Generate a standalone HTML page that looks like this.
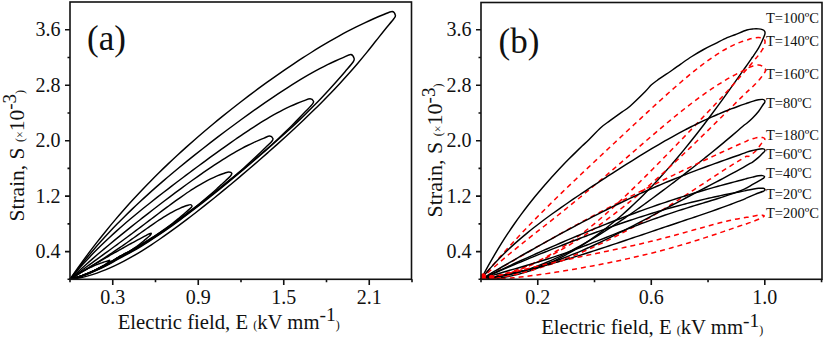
<!DOCTYPE html>
<html><head><meta charset="utf-8"><style>
html,body{margin:0;padding:0;background:#fff;}
svg{display:block;}
text{font-family:"Liberation Serif",serif;fill:#111;}
.tl{font-size:20px;}
.al{font-size:20.7px;}
.yl{font-size:21.5px;}
.supy{font-size:19px;}
.sp{font-size:12px;}
.sup{font-size:19.5px;}
.tt{font-size:14.5px;}
.deg{font-size:9px;}
.k{fill:none;stroke:#000;stroke-width:1.45;stroke-linejoin:round;}
.r{fill:none;stroke:#ff0000;stroke-width:1.5;stroke-dasharray:5 4;}
.ax{fill:none;stroke:#111;stroke-width:1.6;}
</style></head><body>
<svg width="825" height="340" viewBox="0 0 825 340">
<rect width="825" height="340" fill="#fff"/>
<path d="M70.00,279.30 C71.49,277.16 75.96,270.63 78.95,266.44 C81.93,262.25 84.91,258.16 87.89,254.15 C90.88,250.15 93.86,246.24 96.84,242.41 C99.82,238.58 102.81,234.84 105.79,231.17 C108.77,227.50 111.75,223.91 114.74,220.39 C117.72,216.86 120.70,213.42 123.68,210.03 C126.67,206.65 129.65,203.34 132.63,200.08 C135.61,196.82 138.60,193.63 141.58,190.49 C144.56,187.35 147.54,184.27 150.53,181.24 C153.51,178.20 156.49,175.23 159.47,172.29 C162.45,169.36 165.44,166.48 168.42,163.64 C171.40,160.80 174.38,158.00 177.37,155.25 C180.35,152.49 183.33,149.78 186.31,147.10 C189.30,144.42 192.28,141.78 195.26,139.18 C198.24,136.57 201.23,134.00 204.21,131.46 C207.19,128.93 210.17,126.42 213.16,123.95 C216.14,121.47 219.12,119.03 222.10,116.62 C225.09,114.20 228.07,111.81 231.05,109.46 C234.03,107.10 237.01,104.77 240.00,102.46 C242.98,100.16 245.96,97.88 248.94,95.63 C251.93,93.38 254.91,91.15 257.89,88.95 C260.87,86.75 263.86,84.58 266.84,82.43 C269.82,80.28 272.80,78.16 275.79,76.07 C278.77,73.97 281.75,71.90 284.73,69.86 C287.72,67.82 290.70,65.80 293.68,63.81 C296.66,61.83 299.65,59.86 302.63,57.94 C305.61,56.01 308.59,54.11 311.58,52.24 C314.56,50.37 317.54,48.53 320.52,46.73 C323.50,44.93 326.49,43.15 329.47,41.42 C332.45,39.69 335.43,37.99 338.42,36.33 C341.40,34.67 344.38,33.05 347.36,31.47 C350.35,29.89 353.33,28.36 356.31,26.87 C359.29,25.38 362.28,23.93 365.26,22.54 C368.24,21.14 371.22,19.79 374.21,18.50 C377.19,17.21 380.17,15.97 383.15,14.79 C386.14,13.61 390.06,11.34 392.10,11.43 C394.14,11.51 395.12,14.07 395.40,15.30 C395.68,16.53 395.57,16.40 393.80,18.80 C392.03,21.20 387.80,26.00 384.81,29.70 C381.81,33.41 378.81,37.27 375.81,41.05 C372.81,44.83 369.81,48.69 366.82,52.37 C363.82,56.06 360.82,59.65 357.82,63.17 C354.82,66.68 351.83,70.12 348.83,73.49 C345.83,76.86 342.83,80.15 339.83,83.39 C336.84,86.63 333.84,89.80 330.84,92.93 C327.84,96.05 324.84,99.12 321.84,102.14 C318.85,105.17 315.85,108.14 312.85,111.07 C309.85,114.01 306.85,116.90 303.86,119.76 C300.86,122.62 297.86,125.44 294.86,128.24 C291.86,131.03 288.86,133.79 285.87,136.53 C282.87,139.26 279.87,141.97 276.87,144.66 C273.87,147.34 270.88,150.00 267.88,152.65 C264.88,155.29 261.88,157.91 258.88,160.51 C255.89,163.12 252.89,165.70 249.89,168.27 C246.89,170.83 243.89,173.38 240.89,175.91 C237.90,178.44 234.90,180.96 231.90,183.45 C228.90,185.95 225.90,188.43 222.91,190.89 C219.91,193.35 216.91,195.80 213.91,198.22 C210.91,200.64 207.91,203.04 204.92,205.42 C201.92,207.80 198.92,210.16 195.92,212.50 C192.92,214.83 189.93,217.14 186.93,219.41 C183.93,221.69 180.93,223.94 177.93,226.16 C174.94,228.37 171.94,230.55 168.94,232.70 C165.94,234.84 162.94,236.94 159.94,239.00 C156.95,241.06 153.95,243.08 150.95,245.04 C147.95,247.00 144.95,248.91 141.96,250.76 C138.96,252.61 135.96,254.41 132.96,256.14 C129.96,257.86 126.96,259.53 123.97,261.11 C120.97,262.69 117.97,264.21 114.97,265.63 C111.97,267.05 108.98,268.40 105.98,269.64 C102.98,270.88 99.98,272.04 96.98,273.08 C93.99,274.12 90.99,275.07 87.99,275.88 C84.99,276.70 81.99,277.41 78.99,277.98 C76.00,278.55 71.50,279.08 70.00,279.30" class="k"/>
<path d="M70.00,279.30 C71.30,277.59 75.20,272.38 77.80,269.04 C80.40,265.70 83.00,262.45 85.61,259.27 C88.21,256.09 90.81,253.00 93.41,249.96 C96.01,246.92 98.61,243.96 101.21,241.06 C103.81,238.16 106.41,235.32 109.01,232.53 C111.61,229.75 114.22,227.03 116.82,224.35 C119.42,221.67 122.02,219.05 124.62,216.47 C127.22,213.88 129.82,211.35 132.42,208.86 C135.02,206.36 137.62,203.91 140.22,201.49 C142.83,199.07 145.43,196.70 148.03,194.35 C150.63,192.00 153.23,189.68 155.83,187.40 C158.43,185.11 161.03,182.85 163.63,180.62 C166.23,178.38 168.84,176.18 171.44,173.99 C174.04,171.81 176.64,169.65 179.24,167.50 C181.84,165.36 184.44,163.24 187.04,161.14 C189.64,159.03 192.24,156.95 194.84,154.88 C197.45,152.81 200.05,150.76 202.65,148.72 C205.25,146.68 207.85,144.66 210.45,142.65 C213.05,140.64 215.65,138.65 218.25,136.67 C220.85,134.69 223.45,132.72 226.06,130.77 C228.66,128.82 231.26,126.88 233.86,124.96 C236.46,123.03 239.06,121.12 241.66,119.23 C244.26,117.33 246.86,115.45 249.46,113.59 C252.06,111.72 254.67,109.87 257.27,108.04 C259.87,106.21 262.47,104.40 265.07,102.60 C267.67,100.81 270.27,99.03 272.87,97.28 C275.47,95.53 278.07,93.79 280.67,92.09 C283.28,90.38 285.88,88.69 288.48,87.04 C291.08,85.38 293.68,83.75 296.28,82.15 C298.88,80.55 301.48,78.98 304.08,77.45 C306.68,75.92 309.29,74.42 311.89,72.96 C314.49,71.50 317.09,70.08 319.69,68.70 C322.29,67.33 324.89,65.99 327.49,64.70 C330.09,63.42 332.69,62.18 335.29,61.00 C337.90,59.82 340.50,58.68 343.10,57.62 C345.70,56.55 349.07,54.46 350.90,54.59 C352.73,54.72 353.73,57.17 354.10,58.40 C354.47,59.63 354.58,59.83 353.10,62.00 C351.62,64.17 347.86,68.33 345.24,71.41 C342.61,74.48 339.99,77.50 337.37,80.46 C334.75,83.43 332.13,86.34 329.51,89.20 C326.89,92.06 324.27,94.88 321.64,97.64 C319.02,100.41 316.40,103.13 313.78,105.81 C311.16,108.49 308.54,111.13 305.92,113.72 C303.30,116.31 300.67,118.87 298.05,121.36 C295.43,123.86 292.81,126.28 290.19,128.69 C287.57,131.10 284.95,133.46 282.33,135.82 C279.70,138.17 277.08,140.51 274.46,142.83 C271.84,145.14 269.22,147.44 266.60,149.73 C263.98,152.02 261.35,154.29 258.73,156.54 C256.11,158.80 253.49,161.04 250.87,163.27 C248.25,165.49 245.63,167.71 243.01,169.91 C240.38,172.11 237.76,174.30 235.14,176.47 C232.52,178.65 229.90,180.81 227.28,182.95 C224.66,185.10 222.04,187.24 219.41,189.36 C216.79,191.48 214.17,193.58 211.55,195.67 C208.93,197.76 206.31,199.83 203.69,201.89 C201.06,203.95 198.44,205.99 195.82,208.01 C193.20,210.02 190.58,212.03 187.96,214.00 C185.34,215.98 182.72,217.94 180.09,219.87 C177.47,221.80 174.85,223.71 172.23,225.58 C169.61,227.46 166.99,229.31 164.37,231.13 C161.75,232.95 159.12,234.74 156.50,236.48 C153.88,238.23 151.26,239.95 148.64,241.62 C146.02,243.29 143.40,244.93 140.78,246.51 C138.15,248.10 135.53,249.64 132.91,251.13 C130.29,252.62 127.67,254.02 125.05,255.44 C122.43,256.87 119.80,258.26 117.18,259.70 C114.56,261.15 111.94,262.71 109.32,264.12 C106.70,265.52 104.08,266.87 101.46,268.13 C98.83,269.40 96.21,270.59 93.59,271.70 C90.97,272.81 88.35,273.85 85.73,274.79 C83.11,275.72 80.49,276.58 77.86,277.34 C75.24,278.09 71.31,278.97 70.00,279.30" class="k"/>
<path d="M70.00,279.30 C71.11,277.97 74.45,273.93 76.67,271.35 C78.89,268.76 81.12,266.26 83.34,263.81 C85.56,261.35 87.79,258.97 90.01,256.63 C92.23,254.30 94.45,252.02 96.68,249.79 C98.90,247.56 101.12,245.38 103.35,243.24 C105.57,241.10 107.79,239.01 110.02,236.95 C112.24,234.89 114.46,232.87 116.69,230.88 C118.91,228.89 121.13,226.93 123.36,225.00 C125.58,223.07 127.80,221.17 130.03,219.30 C132.25,217.42 134.47,215.57 136.69,213.73 C138.92,211.90 141.14,210.09 143.36,208.29 C145.59,206.49 147.81,204.72 150.03,202.95 C152.26,201.18 154.48,199.43 156.70,197.69 C158.93,195.95 161.15,194.22 163.37,192.50 C165.60,190.78 167.82,189.08 170.04,187.37 C172.26,185.67 174.49,183.98 176.71,182.29 C178.93,180.61 181.16,178.93 183.38,177.25 C185.60,175.58 187.83,173.91 190.05,172.25 C192.27,170.59 194.50,168.93 196.72,167.28 C198.94,165.63 201.17,163.99 203.39,162.35 C205.61,160.71 207.84,159.08 210.06,157.45 C212.28,155.83 214.50,154.21 216.73,152.61 C218.95,151.00 221.17,149.40 223.40,147.81 C225.62,146.22 227.84,144.64 230.07,143.08 C232.29,141.51 234.51,139.96 236.74,138.42 C238.96,136.89 241.18,135.37 243.41,133.86 C245.63,132.36 247.85,130.88 250.08,129.41 C252.30,127.95 254.52,126.51 256.74,125.10 C258.97,123.69 261.19,122.29 263.41,120.94 C265.64,119.58 267.86,118.25 270.08,116.96 C272.31,115.67 274.53,114.41 276.75,113.19 C278.98,111.98 281.20,110.80 283.42,109.67 C285.65,108.54 287.87,107.45 290.09,106.42 C292.31,105.39 294.54,104.41 296.76,103.49 C298.98,102.57 301.21,101.70 303.43,100.90 C305.65,100.11 308.42,98.66 310.10,98.71 C311.78,98.76 313.12,100.30 313.50,101.20 C313.88,102.10 313.71,102.41 312.40,104.10 C311.09,105.79 307.91,108.96 305.67,111.34 C303.42,113.72 301.18,116.07 298.93,118.38 C296.69,120.70 294.44,122.98 292.20,125.23 C289.96,127.48 287.71,129.70 285.47,131.89 C283.22,134.07 280.98,136.22 278.73,138.32 C276.49,140.43 274.24,142.48 272.00,144.49 C269.76,146.50 267.51,148.42 265.27,150.37 C263.02,152.32 260.78,154.26 258.53,156.19 C256.29,158.12 254.04,160.04 251.80,161.95 C249.56,163.85 247.31,165.75 245.07,167.64 C242.82,169.53 240.58,171.41 238.33,173.28 C236.09,175.14 233.84,177.00 231.60,178.85 C229.36,180.70 227.11,182.54 224.87,184.37 C222.62,186.20 220.38,188.02 218.13,189.83 C215.89,191.64 213.64,193.44 211.40,195.22 C209.16,197.01 206.91,198.78 204.67,200.55 C202.42,202.31 200.18,204.06 197.93,205.80 C195.69,207.53 193.44,209.25 191.20,210.96 C188.96,212.67 186.71,214.36 184.47,216.03 C182.22,217.71 179.98,219.36 177.73,221.00 C175.49,222.64 173.24,224.26 171.00,225.86 C168.76,227.46 166.51,229.04 164.27,230.59 C162.02,232.14 159.78,233.67 157.53,235.18 C155.29,236.68 153.04,238.16 150.80,239.61 C148.56,241.06 146.31,242.48 144.07,243.87 C141.82,245.26 139.58,246.61 137.33,247.93 C135.09,249.25 132.84,250.54 130.60,251.79 C128.36,253.04 126.11,254.19 123.87,255.41 C121.62,256.63 119.38,257.85 117.13,259.12 C114.89,260.38 112.64,261.75 110.40,263.00 C108.16,264.25 105.91,265.45 103.67,266.60 C101.42,267.74 99.18,268.84 96.93,269.88 C94.69,270.92 92.44,271.90 90.20,272.82 C87.96,273.74 85.71,274.60 83.47,275.39 C81.22,276.18 78.98,276.91 76.73,277.56 C74.49,278.21 71.12,279.01 70.00,279.30" class="k"/>
<path d="M70.00,279.30 C70.92,278.43 73.70,275.80 75.55,274.08 C77.40,272.36 79.25,270.66 81.09,268.98 C82.94,267.30 84.79,265.64 86.64,263.99 C88.49,262.35 90.34,260.72 92.19,259.11 C94.04,257.49 95.89,255.90 97.74,254.31 C99.59,252.73 101.43,251.16 103.28,249.60 C105.13,248.04 106.98,246.49 108.83,244.95 C110.68,243.41 112.53,241.88 114.38,240.36 C116.23,238.85 118.08,237.34 119.92,235.83 C121.77,234.33 123.62,232.84 125.47,231.35 C127.32,229.87 129.17,228.39 131.02,226.91 C132.87,225.44 134.72,223.97 136.57,222.51 C138.42,221.05 140.26,219.60 142.11,218.15 C143.96,216.70 145.81,215.26 147.66,213.82 C149.51,212.38 151.36,210.95 153.21,209.52 C155.06,208.09 156.91,206.67 158.76,205.26 C160.60,203.84 162.45,202.43 164.30,201.03 C166.15,199.62 168.00,198.22 169.85,196.83 C171.70,195.44 173.55,194.05 175.40,192.68 C177.25,191.30 179.10,189.93 180.94,188.56 C182.79,187.20 184.64,185.85 186.49,184.50 C188.34,183.16 190.19,181.82 192.04,180.49 C193.89,179.17 195.74,177.85 197.59,176.55 C199.44,175.24 201.28,173.95 203.13,172.67 C204.98,171.39 206.83,170.12 208.68,168.87 C210.53,167.62 212.38,166.38 214.23,165.17 C216.08,163.95 217.93,162.74 219.77,161.56 C221.62,160.38 223.47,159.21 225.32,158.07 C227.17,156.92 229.02,155.80 230.87,154.70 C232.72,153.60 234.57,152.53 236.42,151.48 C238.27,150.43 240.11,149.41 241.96,148.41 C243.81,147.42 245.66,146.45 247.51,145.52 C249.36,144.59 251.21,143.68 253.06,142.82 C254.91,141.95 256.76,141.12 258.61,140.32 C260.45,139.53 262.30,138.77 264.15,138.06 C266.00,137.35 268.24,135.97 269.70,136.05 C271.16,136.12 272.53,137.64 272.90,138.50 C273.27,139.36 273.00,139.82 271.90,141.20 C270.80,142.58 268.16,144.94 266.29,146.78 C264.42,148.62 262.55,150.44 260.68,152.25 C258.81,154.05 256.94,155.84 255.07,157.60 C253.21,159.37 251.34,161.12 249.47,162.84 C247.60,164.56 245.73,166.26 243.86,167.93 C241.99,169.60 240.12,171.26 238.25,172.86 C236.38,174.46 234.51,175.98 232.64,177.53 C230.77,179.07 228.90,180.60 227.03,182.13 C225.16,183.66 223.29,185.18 221.42,186.69 C219.56,188.21 217.69,189.71 215.82,191.21 C213.95,192.71 212.08,194.20 210.21,195.68 C208.34,197.17 206.47,198.64 204.60,200.11 C202.73,201.57 200.86,203.03 198.99,204.48 C197.12,205.93 195.25,207.37 193.38,208.79 C191.51,210.22 189.64,211.64 187.77,213.05 C185.91,214.45 184.04,215.85 182.17,217.23 C180.30,218.62 178.43,219.99 176.56,221.34 C174.69,222.70 172.82,224.05 170.95,225.38 C169.08,226.71 167.21,228.02 165.34,229.32 C163.47,230.62 161.60,231.90 159.73,233.17 C157.86,234.43 155.99,235.68 154.12,236.91 C152.26,238.14 150.39,239.35 148.52,240.54 C146.65,241.73 144.78,242.90 142.91,244.04 C141.04,245.19 139.17,246.31 137.30,247.41 C135.43,248.51 133.56,249.58 131.69,250.63 C129.82,251.68 127.95,252.70 126.08,253.69 C124.21,254.69 122.34,255.54 120.47,256.58 C118.61,257.63 116.74,258.85 114.87,259.95 C113.00,261.05 111.13,262.14 109.26,263.18 C107.39,264.23 105.52,265.24 103.65,266.22 C101.78,267.19 99.91,268.14 98.04,269.04 C96.17,269.94 94.30,270.80 92.43,271.62 C90.56,272.44 88.69,273.22 86.83,273.96 C84.96,274.69 83.09,275.39 81.22,276.03 C79.35,276.67 77.48,277.27 75.61,277.82 C73.74,278.36 70.93,279.05 70.00,279.30" class="k"/>
<path d="M70.00,279.30 C70.74,278.73 72.94,277.02 74.41,275.90 C75.88,274.78 77.35,273.67 78.82,272.56 C80.29,271.46 81.76,270.36 83.23,269.27 C84.70,268.18 86.17,267.10 87.64,266.02 C89.11,264.94 90.59,263.87 92.06,262.80 C93.53,261.72 95.00,260.66 96.47,259.59 C97.94,258.52 99.41,257.45 100.88,256.39 C102.35,255.32 103.82,254.25 105.29,253.18 C106.76,252.11 108.23,251.05 109.70,249.98 C111.17,248.90 112.64,247.83 114.11,246.76 C115.58,245.68 117.05,244.60 118.52,243.52 C119.99,242.44 121.46,241.36 122.93,240.27 C124.40,239.19 125.87,238.10 127.34,237.00 C128.81,235.91 130.29,234.82 131.76,233.72 C133.23,232.62 134.70,231.52 136.17,230.41 C137.64,229.31 139.11,228.20 140.58,227.10 C142.05,225.99 143.52,224.88 144.99,223.77 C146.46,222.65 147.93,221.54 149.40,220.43 C150.87,219.32 152.34,218.20 153.81,217.09 C155.28,215.98 156.75,214.87 158.22,213.76 C159.69,212.65 161.16,211.55 162.63,210.45 C164.10,209.35 165.57,208.25 167.04,207.16 C168.51,206.07 169.99,204.98 171.46,203.90 C172.93,202.82 174.40,201.75 175.87,200.69 C177.34,199.64 178.81,198.58 180.28,197.55 C181.75,196.51 183.22,195.49 184.69,194.48 C186.16,193.47 187.63,192.47 189.10,191.50 C190.57,190.52 192.04,189.56 193.51,188.63 C194.98,187.69 196.45,186.77 197.92,185.88 C199.39,184.99 200.86,184.12 202.33,183.28 C203.80,182.44 205.27,181.63 206.74,180.85 C208.21,180.07 209.69,179.31 211.16,178.60 C212.63,177.89 214.10,177.20 215.57,176.56 C217.04,175.92 218.51,175.32 219.98,174.76 C221.45,174.20 222.92,173.69 224.39,173.22 C225.86,172.75 227.56,171.97 228.80,171.96 C230.04,171.96 231.55,172.49 231.80,173.20 C232.05,173.91 231.29,174.99 230.30,176.20 C229.31,177.41 227.33,179.04 225.85,180.43 C224.36,181.83 222.88,183.22 221.39,184.60 C219.91,185.97 218.43,187.33 216.94,188.68 C215.46,190.03 213.97,191.36 212.49,192.68 C211.00,194.00 209.52,195.30 208.04,196.58 C206.55,197.87 205.07,199.14 203.58,200.38 C202.10,201.62 200.61,202.85 199.13,204.03 C197.65,205.21 196.16,206.33 194.68,207.47 C193.19,208.61 191.71,209.74 190.23,210.86 C188.74,211.99 187.26,213.10 185.77,214.21 C184.29,215.32 182.80,216.42 181.32,217.52 C179.84,218.61 178.35,219.70 176.87,220.78 C175.38,221.86 173.90,222.93 172.41,223.99 C170.93,225.05 169.45,226.10 167.96,227.14 C166.48,228.18 164.99,229.22 163.51,230.24 C162.02,231.26 160.54,232.27 159.06,233.27 C157.57,234.27 156.09,235.26 154.60,236.24 C153.12,237.22 151.63,238.18 150.15,239.14 C148.67,240.09 147.18,241.03 145.70,241.96 C144.21,242.88 142.73,243.79 141.24,244.69 C139.76,245.59 138.28,246.47 136.79,247.34 C135.31,248.21 133.82,249.06 132.34,249.90 C130.85,250.74 129.37,251.56 127.89,252.36 C126.40,253.16 124.92,253.92 123.43,254.71 C121.95,255.50 120.46,256.24 118.98,257.09 C117.50,257.94 116.01,258.92 114.53,259.81 C113.04,260.70 111.56,261.57 110.08,262.42 C108.59,263.27 107.11,264.10 105.62,264.90 C104.14,265.71 102.65,266.49 101.17,267.25 C99.69,268.01 98.20,268.75 96.72,269.46 C95.23,270.18 93.75,270.86 92.26,271.52 C90.78,272.19 89.30,272.82 87.81,273.43 C86.33,274.04 84.84,274.62 83.36,275.17 C81.87,275.72 80.39,276.24 78.91,276.73 C77.42,277.22 75.94,277.68 74.45,278.11 C72.97,278.54 70.74,279.10 70.00,279.30" class="k"/>
<path d="M70.00,279.30 C70.56,278.94 72.23,277.87 73.34,277.17 C74.46,276.46 75.57,275.77 76.68,275.07 C77.80,274.38 78.91,273.69 80.03,273.00 C81.14,272.31 82.25,271.63 83.37,270.95 C84.48,270.26 85.59,269.58 86.71,268.90 C87.82,268.21 88.94,267.53 90.05,266.85 C91.16,266.16 92.28,265.48 93.39,264.79 C94.51,264.10 95.62,263.41 96.73,262.71 C97.85,262.01 98.96,261.32 100.08,260.61 C101.19,259.91 102.30,259.20 103.42,258.49 C104.53,257.78 105.64,257.06 106.76,256.34 C107.87,255.61 108.99,254.89 110.10,254.15 C111.21,253.42 112.33,252.68 113.44,251.94 C114.56,251.19 115.67,250.44 116.78,249.69 C117.90,248.93 119.01,248.17 120.12,247.41 C121.24,246.64 122.35,245.87 123.47,245.10 C124.58,244.32 125.69,243.54 126.81,242.76 C127.92,241.98 129.04,241.19 130.15,240.40 C131.26,239.61 132.38,238.82 133.49,238.03 C134.61,237.23 135.72,236.43 136.83,235.64 C137.95,234.84 139.06,234.04 140.18,233.24 C141.29,232.44 142.40,231.65 143.52,230.85 C144.63,230.06 145.74,229.26 146.86,228.47 C147.97,227.68 149.09,226.90 150.20,226.11 C151.31,225.33 152.43,224.56 153.54,223.79 C154.66,223.02 155.77,222.26 156.88,221.51 C158.00,220.76 159.11,220.02 160.23,219.29 C161.34,218.57 162.45,217.85 163.57,217.15 C164.68,216.45 165.79,215.76 166.91,215.09 C168.02,214.42 169.14,213.76 170.25,213.13 C171.36,212.50 172.48,211.89 173.59,211.30 C174.71,210.71 175.82,210.14 176.93,209.61 C178.05,209.07 179.16,208.55 180.28,208.07 C181.39,207.59 182.50,207.13 183.62,206.72 C184.73,206.30 185.84,205.91 186.96,205.56 C188.07,205.21 189.46,204.57 190.30,204.63 C191.14,204.69 191.85,205.41 192.00,205.90 C192.15,206.39 191.89,206.82 191.20,207.60 C190.51,208.38 188.96,209.60 187.83,210.59 C186.71,211.57 185.59,212.55 184.47,213.51 C183.34,214.48 182.22,215.44 181.10,216.38 C179.98,217.32 178.86,218.26 177.73,219.18 C176.61,220.10 175.49,221.01 174.37,221.90 C173.24,222.80 172.12,223.68 171.00,224.54 C169.88,225.41 168.76,226.26 167.63,227.08 C166.51,227.90 165.39,228.67 164.27,229.45 C163.14,230.23 162.02,231.00 160.90,231.76 C159.78,232.52 158.66,233.28 157.53,234.03 C156.41,234.78 155.29,235.52 154.17,236.26 C153.04,237.00 151.92,237.73 150.80,238.45 C149.68,239.17 148.56,239.89 147.43,240.60 C146.31,241.30 145.19,242.00 144.07,242.70 C142.94,243.39 141.82,244.07 140.70,244.75 C139.58,245.43 138.46,246.09 137.33,246.75 C136.21,247.41 135.09,248.06 133.97,248.70 C132.84,249.34 131.72,249.97 130.60,250.60 C129.48,251.22 128.36,251.83 127.23,252.43 C126.11,253.03 124.99,253.63 123.87,254.21 C122.74,254.79 121.62,255.29 120.50,255.92 C119.38,256.55 118.26,257.28 117.13,257.97 C116.01,258.65 114.89,259.35 113.77,260.02 C112.64,260.69 111.52,261.36 110.40,262.01 C109.28,262.66 108.16,263.29 107.03,263.92 C105.91,264.55 104.79,265.16 103.67,265.76 C102.54,266.36 101.42,266.95 100.30,267.52 C99.18,268.10 98.06,268.66 96.93,269.20 C95.81,269.75 94.69,270.28 93.57,270.80 C92.44,271.32 91.32,271.82 90.20,272.31 C89.08,272.80 87.96,273.27 86.83,273.73 C85.71,274.18 84.59,274.62 83.47,275.05 C82.34,275.47 81.22,275.88 80.10,276.27 C78.98,276.66 77.86,277.03 76.73,277.39 C75.61,277.74 74.49,278.08 73.37,278.40 C72.24,278.72 70.56,279.15 70.00,279.30" class="k"/>
<path d="M70.00,279.30 C70.36,279.07 71.46,278.39 72.18,277.94 C72.91,277.49 73.64,277.04 74.37,276.58 C75.09,276.13 75.82,275.69 76.55,275.24 C77.28,274.79 78.01,274.34 78.73,273.89 C79.46,273.45 80.19,273.00 80.92,272.56 C81.64,272.11 82.37,271.67 83.10,271.23 C83.83,270.79 84.56,270.34 85.28,269.90 C86.01,269.46 86.74,269.02 87.47,268.59 C88.19,268.15 88.92,267.71 89.65,267.27 C90.38,266.84 91.11,266.40 91.83,265.97 C92.56,265.53 93.29,265.10 94.02,264.67 C94.74,264.24 95.47,263.80 96.20,263.37 C96.93,262.94 97.66,262.51 98.38,262.09 C99.11,261.66 99.84,261.23 100.57,260.81 C101.29,260.38 102.02,259.95 102.75,259.53 C103.48,259.11 104.21,258.68 104.93,258.26 C105.66,257.84 106.39,257.42 107.12,257.00 C107.84,256.58 108.57,256.16 109.30,255.74 C110.03,255.32 110.76,254.90 111.48,254.49 C112.21,254.07 112.94,253.66 113.67,253.24 C114.39,252.83 115.12,252.42 115.85,252.00 C116.58,251.59 117.31,251.18 118.03,250.77 C118.76,250.36 119.49,249.95 120.22,249.54 C120.94,249.14 121.67,248.73 122.40,248.32 C123.13,247.92 123.86,247.51 124.58,247.11 C125.31,246.70 126.04,246.30 126.77,245.90 C127.49,245.50 128.22,245.10 128.95,244.70 C129.68,244.30 130.41,243.90 131.13,243.50 C131.86,243.10 132.59,242.71 133.32,242.31 C134.04,241.91 134.77,241.52 135.50,241.13 C136.23,240.73 136.96,240.34 137.68,239.95 C138.41,239.56 139.14,239.17 139.87,238.78 C140.59,238.39 141.32,238.00 142.05,237.61 C142.78,237.22 143.51,236.83 144.23,236.45 C144.96,236.06 145.69,235.68 146.42,235.30 C147.14,234.91 147.80,234.48 148.60,234.15 C149.40,233.81 150.92,233.12 151.20,233.30 C151.48,233.48 150.82,234.55 150.30,235.20 C149.78,235.85 148.81,236.54 148.07,237.20 C147.33,237.86 146.58,238.51 145.84,239.15 C145.10,239.79 144.35,240.42 143.61,241.04 C142.86,241.66 142.12,242.27 141.38,242.87 C140.63,243.47 139.89,244.05 139.15,244.63 C138.40,245.20 137.66,245.77 136.92,246.32 C136.17,246.87 135.43,247.40 134.69,247.92 C133.94,248.44 133.20,248.95 132.46,249.43 C131.71,249.91 130.97,250.37 130.23,250.80 C129.48,251.24 128.74,251.62 127.99,252.02 C127.25,252.42 126.51,252.82 125.76,253.21 C125.02,253.61 124.28,254.00 123.53,254.38 C122.79,254.76 122.05,255.12 121.30,255.52 C120.56,255.91 119.82,256.32 119.07,256.76 C118.33,257.19 117.59,257.69 116.84,258.15 C116.10,258.61 115.35,259.06 114.61,259.51 C113.87,259.96 113.12,260.41 112.38,260.85 C111.64,261.29 110.89,261.72 110.15,262.15 C109.41,262.58 108.66,263.00 107.92,263.42 C107.18,263.84 106.43,264.26 105.69,264.66 C104.95,265.07 104.20,265.47 103.46,265.87 C102.71,266.27 101.97,266.66 101.23,267.04 C100.48,267.43 99.74,267.81 99.00,268.18 C98.25,268.56 97.51,268.92 96.77,269.28 C96.02,269.65 95.28,270.00 94.54,270.35 C93.79,270.70 93.05,271.04 92.31,271.38 C91.56,271.71 90.82,272.04 90.08,272.36 C89.33,272.69 88.59,273.00 87.84,273.31 C87.10,273.62 86.36,273.92 85.61,274.22 C84.87,274.51 84.13,274.80 83.38,275.08 C82.64,275.36 81.90,275.63 81.15,275.90 C80.41,276.16 79.67,276.42 78.92,276.67 C78.18,276.92 77.44,277.17 76.69,277.40 C75.95,277.64 75.20,277.86 74.46,278.08 C73.72,278.30 72.97,278.51 72.23,278.72 C71.49,278.92 70.37,279.20 70.00,279.30" class="k"/>
<path d="M70.00,279.30 C70.17,279.18 70.69,278.82 71.04,278.58 C71.39,278.35 71.74,278.11 72.08,277.88 C72.43,277.65 72.78,277.41 73.12,277.19 C73.47,276.96 73.82,276.73 74.17,276.50 C74.51,276.28 74.86,276.06 75.21,275.84 C75.56,275.61 75.90,275.40 76.25,275.18 C76.60,274.96 76.94,274.75 77.29,274.53 C77.64,274.32 77.99,274.11 78.33,273.90 C78.68,273.69 79.03,273.48 79.38,273.28 C79.72,273.07 80.07,272.87 80.42,272.67 C80.76,272.47 81.11,272.27 81.46,272.07 C81.81,271.87 82.15,271.68 82.50,271.48 C82.85,271.29 83.19,271.10 83.54,270.91 C83.89,270.72 84.24,270.53 84.58,270.34 C84.93,270.16 85.28,269.98 85.62,269.79 C85.97,269.61 86.32,269.43 86.67,269.25 C87.01,269.08 87.36,268.90 87.71,268.73 C88.06,268.55 88.40,268.38 88.75,268.21 C89.10,268.04 89.44,267.87 89.79,267.71 C90.14,267.54 90.49,267.38 90.83,267.22 C91.18,267.05 91.53,266.89 91.88,266.74 C92.22,266.58 92.57,266.42 92.92,266.27 C93.26,266.11 93.61,265.96 93.96,265.81 C94.31,265.66 94.65,265.51 95.00,265.37 C95.35,265.22 95.69,265.08 96.04,264.93 C96.39,264.79 96.74,264.65 97.08,264.51 C97.43,264.37 97.78,264.24 98.12,264.10 C98.47,263.97 98.82,263.84 99.17,263.71 C99.51,263.58 99.86,263.45 100.21,263.32 C100.56,263.20 100.90,263.07 101.25,262.95 C101.60,262.83 101.94,262.70 102.29,262.59 C102.64,262.47 102.99,262.35 103.33,262.24 C103.68,262.12 104.03,262.01 104.38,261.90 C104.72,261.79 105.07,261.68 105.42,261.57 C105.76,261.47 106.11,261.36 106.46,261.26 C106.81,261.15 106.94,261.11 107.50,260.95 C108.06,260.80 109.55,260.14 109.80,260.30 C110.05,260.46 109.31,261.51 109.00,261.90 C108.69,262.29 108.28,262.39 107.92,262.63 C107.56,262.88 107.19,263.12 106.83,263.36 C106.47,263.59 106.11,263.83 105.75,264.06 C105.39,264.30 105.03,264.53 104.67,264.76 C104.31,264.99 103.94,265.21 103.58,265.43 C103.22,265.66 102.86,265.88 102.50,266.10 C102.14,266.32 101.78,266.53 101.42,266.74 C101.06,266.96 100.69,267.17 100.33,267.37 C99.97,267.58 99.61,267.78 99.25,267.98 C98.89,268.18 98.53,268.38 98.17,268.57 C97.81,268.76 97.44,268.95 97.08,269.13 C96.72,269.31 96.36,269.48 96.00,269.65 C95.64,269.83 95.28,270.00 94.92,270.17 C94.56,270.34 94.19,270.51 93.83,270.68 C93.47,270.84 93.11,271.01 92.75,271.17 C92.39,271.34 92.03,271.50 91.67,271.66 C91.31,271.82 90.94,271.98 90.58,272.14 C90.22,272.30 89.86,272.46 89.50,272.61 C89.14,272.77 88.78,272.92 88.42,273.07 C88.06,273.22 87.69,273.37 87.33,273.52 C86.97,273.67 86.61,273.82 86.25,273.96 C85.89,274.11 85.53,274.25 85.17,274.39 C84.81,274.53 84.44,274.67 84.08,274.81 C83.72,274.95 83.36,275.09 83.00,275.22 C82.64,275.36 82.28,275.49 81.92,275.62 C81.56,275.75 81.19,275.88 80.83,276.01 C80.47,276.14 80.11,276.27 79.75,276.39 C79.39,276.51 79.03,276.64 78.67,276.76 C78.31,276.88 77.94,277.00 77.58,277.12 C77.22,277.23 76.86,277.35 76.50,277.46 C76.14,277.58 75.78,277.69 75.42,277.80 C75.06,277.91 74.69,278.01 74.33,278.12 C73.97,278.23 73.61,278.33 73.25,278.43 C72.89,278.53 72.53,278.64 72.17,278.73 C71.81,278.83 71.44,278.93 71.08,279.02 C70.72,279.12 70.18,279.25 70.00,279.30" class="k"/>
<path d="M481.00,279.30 C482.13,277.19 485.50,270.74 487.76,266.65 C490.01,262.57 492.26,258.63 494.51,254.79 C496.77,250.96 499.02,247.25 501.27,243.65 C503.52,240.04 505.78,236.55 508.03,233.15 C510.28,229.75 512.54,226.46 514.79,223.24 C517.04,220.03 519.29,216.91 521.54,213.87 C523.80,210.82 526.05,207.87 528.30,204.97 C530.56,202.08 532.81,199.26 535.06,196.50 C537.31,193.75 539.56,191.06 541.82,188.42 C544.07,185.78 546.32,183.21 548.58,180.67 C550.83,178.14 553.08,175.67 555.33,173.23 C557.59,170.79 559.84,168.41 562.09,166.05 C564.34,163.70 566.60,161.39 568.85,159.11 C571.10,156.83 573.35,154.59 575.61,152.38 C577.86,150.17 580.11,147.99 582.36,145.83 C584.62,143.67 586.06,142.46 589.12,139.44 C592.18,136.42 597.22,130.82 600.70,127.70 C604.18,124.58 606.48,123.28 610.00,120.70 C613.52,118.12 618.47,114.62 621.80,112.20 C625.13,109.78 626.08,109.65 630.00,106.20 C633.92,102.75 641.77,95.03 645.30,91.50 C648.83,87.97 649.23,86.83 651.20,85.00 C653.17,83.17 653.57,83.00 657.10,80.50 C660.63,78.00 668.47,72.73 672.40,70.00 C676.33,67.27 677.47,66.35 680.70,64.10 C683.93,61.85 687.98,58.93 691.80,56.50 C695.62,54.07 699.68,51.65 703.60,49.50 C707.52,47.35 711.38,45.57 715.30,43.60 C719.22,41.63 723.82,39.18 727.10,37.70 C730.38,36.22 731.72,35.98 735.00,34.70 C738.28,33.42 743.67,30.97 746.80,30.00 C749.93,29.03 751.85,29.08 753.80,28.90 C755.75,28.72 757.07,28.78 758.50,28.90 C759.93,29.02 761.37,29.20 762.40,29.60 C763.43,30.00 764.27,30.65 764.70,31.30 C765.13,31.95 765.08,32.72 765.00,33.50 C764.92,34.28 764.70,34.72 764.20,36.00 C763.70,37.28 762.95,39.17 762.00,41.20 C761.05,43.23 759.87,45.85 758.50,48.20 C757.13,50.55 755.00,53.53 753.80,55.30 C752.60,57.07 752.84,56.64 751.30,58.84 C749.76,61.05 746.80,65.31 744.54,68.53 C742.29,71.74 740.04,74.96 737.78,78.15 C735.53,81.34 733.28,84.52 731.03,87.68 C728.77,90.84 726.52,93.99 724.27,97.11 C722.02,100.23 719.77,103.32 717.51,106.39 C715.26,109.46 713.01,112.51 710.75,115.53 C708.50,118.54 706.25,121.53 704.00,124.48 C701.74,127.44 699.49,130.36 697.24,133.25 C694.99,136.14 692.73,138.99 690.48,141.81 C688.23,144.63 685.98,147.41 683.73,150.15 C681.47,152.89 679.22,155.60 676.97,158.27 C674.71,160.93 672.46,163.56 670.21,166.14 C667.96,168.73 665.70,171.27 663.45,173.78 C661.20,176.28 658.95,178.74 656.69,181.16 C654.44,183.58 652.19,185.95 649.94,188.29 C647.68,190.62 645.43,192.91 643.18,195.15 C640.93,197.40 638.67,199.60 636.42,201.76 C634.17,203.92 631.92,206.03 629.66,208.10 C627.41,210.17 625.16,212.20 622.91,214.18 C620.65,216.16 618.40,218.09 616.15,219.99 C613.90,221.88 611.64,223.73 609.39,225.53 C607.14,227.33 604.89,229.09 602.63,230.81 C600.38,232.52 598.13,234.19 595.88,235.82 C593.62,237.45 591.37,239.03 589.12,240.57 C586.87,242.11 584.62,243.60 582.36,245.05 C580.11,246.50 577.86,247.91 575.61,249.27 C573.35,250.63 571.10,251.95 568.85,253.23 C566.60,254.50 564.34,255.73 562.09,256.92 C559.84,258.10 557.59,259.24 555.33,260.34 C553.08,261.44 550.83,262.49 548.58,263.50 C546.32,264.51 544.07,265.47 541.82,266.39 C539.56,267.30 537.31,268.18 535.06,269.00 C532.81,269.83 530.56,270.61 528.30,271.34 C526.05,272.07 523.80,272.76 521.54,273.40 C519.29,274.03 517.04,274.62 514.79,275.16 C512.54,275.70 510.28,276.19 508.03,276.63 C505.78,277.07 503.52,277.46 501.27,277.79 C499.02,278.12 496.77,278.41 494.51,278.63 C492.26,278.86 490.01,279.03 487.76,279.14 C485.50,279.25 482.13,279.27 481.00,279.30" class="k"/>
<path d="M481.00,279.30 C482.11,277.96 485.45,273.93 487.67,271.29 C489.89,268.64 492.12,266.04 494.34,263.46 C496.56,260.88 498.79,258.33 501.01,255.81 C503.23,253.29 505.46,250.80 507.68,248.34 C509.90,245.88 512.13,243.44 514.35,241.03 C516.57,238.62 518.80,236.24 521.02,233.88 C523.24,231.51 525.47,229.18 527.69,226.86 C529.91,224.54 532.14,222.25 534.36,219.98 C536.58,217.70 538.81,215.44 541.03,213.21 C543.25,210.97 545.48,208.75 547.70,206.54 C549.92,204.33 552.15,202.14 554.37,199.96 C556.59,197.78 558.82,195.62 561.04,193.46 C563.26,191.31 565.49,189.17 567.71,187.03 C569.93,184.90 572.16,182.77 574.38,180.65 C576.60,178.53 578.83,176.42 581.05,174.31 C583.27,172.21 585.50,170.11 587.72,168.01 C589.94,165.91 592.17,163.82 594.39,161.73 C596.61,159.64 598.84,157.55 601.06,155.47 C603.28,153.38 605.51,151.30 607.73,149.22 C609.95,147.13 612.18,145.05 614.40,142.97 C616.62,140.89 618.85,138.81 621.07,136.74 C623.29,134.66 625.52,132.58 627.74,130.51 C629.96,128.43 632.19,126.36 634.41,124.29 C636.63,122.22 638.86,120.15 641.08,118.08 C643.30,116.02 645.53,113.96 647.75,111.91 C649.97,109.85 652.20,107.81 654.42,105.77 C656.64,103.73 658.87,101.70 661.09,99.68 C663.31,97.67 665.54,95.66 667.76,93.67 C669.98,91.68 672.21,89.70 674.43,87.75 C676.65,85.80 678.88,83.86 681.10,81.95 C683.32,80.04 685.55,78.16 687.77,76.31 C689.99,74.45 692.22,72.63 694.44,70.85 C696.66,69.07 698.89,67.32 701.11,65.62 C703.33,63.92 705.56,62.26 707.78,60.66 C710.00,59.06 712.23,57.51 714.45,56.03 C716.67,54.55 718.90,53.12 721.12,51.77 C723.34,50.42 725.57,49.14 727.79,47.95 C730.01,46.76 732.24,45.65 734.46,44.64 C736.68,43.63 738.91,42.70 741.13,41.90 C743.35,41.10 746.27,40.33 747.80,39.82 C749.33,39.30 749.10,39.12 750.30,38.80 C751.50,38.48 753.63,38.10 755.00,37.90 C756.37,37.70 757.25,37.55 758.50,37.60 C759.75,37.65 761.48,37.83 762.50,38.20 C763.52,38.57 764.18,39.08 764.60,39.80 C765.02,40.52 765.23,41.10 765.00,42.50 C764.77,43.90 764.28,46.07 763.20,48.20 C762.12,50.33 759.70,53.64 758.50,55.30 C757.30,56.96 757.56,56.29 756.00,58.15 C754.44,60.02 751.42,63.75 749.12,66.48 C746.83,69.20 744.54,71.87 742.25,74.51 C739.96,77.15 737.67,79.75 735.38,82.32 C733.08,84.89 730.79,87.42 728.50,89.94 C726.21,92.46 723.92,94.95 721.62,97.42 C719.33,99.90 717.04,102.35 714.75,104.80 C712.46,107.24 710.17,109.67 707.88,112.09 C705.58,114.52 703.29,116.92 701.00,119.33 C698.71,121.73 696.42,124.13 694.12,126.52 C691.83,128.91 689.54,131.29 687.25,133.67 C684.96,136.06 682.67,138.43 680.38,140.80 C678.08,143.17 675.79,145.54 673.50,147.90 C671.21,150.26 668.92,152.61 666.62,154.96 C664.33,157.31 662.04,159.65 659.75,161.98 C657.46,164.31 655.17,166.64 652.88,168.95 C650.58,171.26 648.29,173.57 646.00,175.85 C643.71,178.14 641.42,180.42 639.12,182.68 C636.83,184.93 634.54,187.18 632.25,189.40 C629.96,191.62 627.67,193.83 625.38,196.00 C623.08,198.18 620.79,200.34 618.50,202.47 C616.21,204.60 613.92,206.70 611.62,208.77 C609.33,210.84 607.04,212.89 604.75,214.90 C602.46,216.90 600.17,218.88 597.88,220.82 C595.58,222.75 593.29,224.65 591.00,226.51 C588.71,228.37 586.42,230.19 584.12,231.96 C581.83,233.74 579.54,235.47 577.25,237.15 C574.96,238.84 572.67,240.48 570.38,242.07 C568.08,243.65 565.79,245.20 563.50,246.69 C561.21,248.18 558.92,249.62 556.62,251.00 C554.33,252.39 552.04,253.73 549.75,255.01 C547.46,256.29 545.17,257.52 542.88,258.70 C540.58,259.88 538.29,261.00 536.00,262.07 C533.71,263.15 531.42,264.16 529.12,265.13 C526.83,266.11 524.54,267.02 522.25,267.89 C519.96,268.77 517.67,269.59 515.38,270.36 C513.08,271.14 510.79,271.87 508.50,272.56 C506.21,273.26 503.92,273.90 501.62,274.52 C499.33,275.14 497.04,275.72 494.75,276.27 C492.46,276.82 490.17,277.34 487.88,277.85 C485.58,278.35 482.15,279.06 481.00,279.30" class="r"/>
<path d="M481.00,279.30 C482.10,278.25 485.41,275.06 487.61,273.01 C489.81,270.95 492.02,268.96 494.22,266.99 C496.42,265.02 498.63,263.10 500.83,261.21 C503.03,259.31 505.24,257.45 507.44,255.60 C509.64,253.76 511.85,251.95 514.05,250.14 C516.25,248.34 518.46,246.56 520.66,244.79 C522.86,243.02 525.07,241.26 527.27,239.51 C529.47,237.76 531.68,236.01 533.88,234.27 C536.08,232.53 538.29,230.80 540.49,229.06 C542.69,227.32 544.90,225.58 547.10,223.84 C549.30,222.10 551.51,220.36 553.71,218.61 C555.91,216.86 558.12,215.10 560.32,213.34 C562.52,211.58 564.73,209.81 566.93,208.03 C569.13,206.25 571.34,204.46 573.54,202.67 C575.74,200.87 577.95,199.07 580.15,197.25 C582.35,195.44 584.56,193.61 586.76,191.78 C588.96,189.94 591.17,188.10 593.37,186.24 C595.57,184.39 597.78,182.53 599.98,180.66 C602.18,178.79 604.39,176.91 606.59,175.02 C608.79,173.13 611.00,171.24 613.20,169.34 C615.40,167.44 617.61,165.53 619.81,163.63 C622.01,161.72 624.22,159.80 626.42,157.89 C628.62,155.98 630.83,154.06 633.03,152.14 C635.23,150.23 637.44,148.31 639.64,146.40 C641.84,144.49 644.05,142.58 646.25,140.68 C648.45,138.78 650.66,136.88 652.86,134.99 C655.06,133.10 657.27,131.22 659.47,129.35 C661.67,127.49 663.88,125.63 666.08,123.79 C668.28,121.95 670.49,120.12 672.69,118.31 C674.89,116.51 677.10,114.72 679.30,112.95 C681.50,111.18 683.71,109.43 685.91,107.71 C688.11,105.99 690.32,104.29 692.52,102.62 C694.72,100.96 696.93,99.31 699.13,97.71 C701.33,96.10 703.54,94.52 705.74,92.98 C707.94,91.43 710.15,89.92 712.35,88.45 C714.55,86.98 716.76,85.55 718.96,84.16 C721.16,82.77 723.37,81.41 725.57,80.11 C727.77,78.80 729.98,77.54 732.18,76.32 C734.38,75.11 736.59,73.94 738.79,72.82 C740.99,71.70 743.88,70.43 745.40,69.61 C746.92,68.79 746.63,68.50 747.90,67.90 C749.17,67.30 751.23,66.48 753.00,66.00 C754.77,65.52 756.92,64.97 758.50,65.00 C760.08,65.03 761.38,65.60 762.50,66.20 C763.62,66.80 764.75,67.72 765.20,68.60 C765.65,69.48 765.43,70.63 765.20,71.50 C764.97,72.37 764.62,72.63 763.80,73.80 C762.98,74.97 761.67,76.83 760.30,78.50 C758.93,80.17 757.27,82.03 755.60,83.80 C753.93,85.57 751.60,87.89 750.30,89.10 C749.00,90.31 749.33,89.66 747.80,91.08 C746.27,92.50 743.35,95.42 741.13,97.61 C738.91,99.79 736.68,101.99 734.46,104.18 C732.24,106.38 730.01,108.59 727.79,110.79 C725.57,112.99 723.34,115.20 721.12,117.41 C718.90,119.61 716.67,121.82 714.45,124.01 C712.23,126.21 710.00,128.41 707.78,130.60 C705.56,132.78 703.33,134.97 701.11,137.14 C698.89,139.31 696.66,141.48 694.44,143.63 C692.22,145.78 689.99,147.92 687.77,150.05 C685.55,152.18 683.32,154.30 681.10,156.40 C678.88,158.50 676.65,160.59 674.43,162.66 C672.21,164.73 669.98,166.78 667.76,168.82 C665.54,170.86 663.31,172.88 661.09,174.88 C658.87,176.88 656.64,178.87 654.42,180.83 C652.20,182.80 649.97,184.74 647.75,186.67 C645.53,188.59 643.30,190.50 641.08,192.38 C638.86,194.26 636.63,196.13 634.41,197.97 C632.19,199.81 629.96,201.63 627.74,203.42 C625.52,205.22 623.29,206.99 621.07,208.74 C618.85,210.50 616.62,212.22 614.40,213.93 C612.18,215.63 609.95,217.31 607.73,218.97 C605.51,220.62 603.28,222.25 601.06,223.86 C598.84,225.46 596.61,227.04 594.39,228.60 C592.17,230.15 589.94,231.68 587.72,233.18 C585.50,234.69 583.27,236.16 581.05,237.61 C578.83,239.06 576.60,240.48 574.38,241.87 C572.16,243.26 569.93,244.63 567.71,245.96 C565.49,247.29 563.26,248.60 561.04,249.87 C558.82,251.14 556.59,252.39 554.37,253.60 C552.15,254.81 549.92,255.99 547.70,257.13 C545.48,258.28 543.25,259.39 541.03,260.47 C538.81,261.55 536.58,262.59 534.36,263.59 C532.14,264.60 529.91,265.56 527.69,266.49 C525.47,267.42 523.24,268.31 521.02,269.16 C518.80,270.00 516.57,270.81 514.35,271.57 C512.13,272.33 509.90,273.05 507.68,273.72 C505.46,274.39 503.23,275.02 501.01,275.59 C498.79,276.16 496.56,276.69 494.34,277.16 C492.12,277.63 489.89,278.04 487.67,278.40 C485.45,278.76 482.11,279.15 481.00,279.30" class="r"/>
<path d="M481.00,279.30 C482.10,277.97 485.39,273.87 487.58,271.31 C489.78,268.74 491.97,266.27 494.17,263.88 C496.36,261.49 498.55,259.20 500.75,256.96 C502.94,254.73 505.14,252.57 507.33,250.47 C509.52,248.38 511.72,246.35 513.91,244.37 C516.11,242.38 518.30,240.46 520.50,238.58 C522.69,236.70 524.88,234.87 527.08,233.07 C529.27,231.27 531.47,229.52 533.66,227.79 C535.85,226.06 538.05,224.38 540.24,222.71 C542.44,221.04 544.63,219.41 546.83,217.79 C549.02,216.17 551.21,214.58 553.41,213.00 C555.60,211.42 557.80,209.87 559.99,208.32 C562.18,206.78 564.38,205.25 566.57,203.73 C568.77,202.22 570.96,200.71 573.15,199.22 C575.35,197.72 577.54,196.23 579.74,194.76 C581.93,193.28 584.13,191.81 586.32,190.34 C588.51,188.88 590.71,187.42 592.90,185.97 C595.10,184.52 597.29,183.08 599.49,181.64 C601.68,180.20 603.87,178.76 606.07,177.34 C608.26,175.91 610.46,174.49 612.65,173.07 C614.84,171.65 617.04,170.24 619.23,168.84 C621.43,167.44 623.62,166.04 625.81,164.65 C628.01,163.26 630.20,161.88 632.40,160.51 C634.59,159.13 636.79,157.77 638.98,156.41 C641.17,155.06 643.37,153.71 645.56,152.38 C647.76,151.05 649.95,149.72 652.14,148.42 C654.34,147.11 656.53,145.81 658.73,144.53 C660.92,143.24 663.12,141.97 665.31,140.72 C667.50,139.47 669.70,138.23 671.89,137.01 C674.09,135.79 676.28,134.59 678.47,133.40 C680.67,132.22 682.86,131.05 685.06,129.90 C687.25,128.76 689.45,127.63 691.64,126.52 C693.83,125.42 696.03,124.33 698.22,123.26 C700.42,122.20 702.61,121.16 704.80,120.13 C707.00,119.11 709.19,118.11 711.39,117.14 C713.58,116.16 715.78,115.20 717.97,114.27 C720.16,113.34 722.36,112.43 724.55,111.54 C726.75,110.65 728.94,109.78 731.13,108.94 C733.33,108.09 735.52,107.26 737.72,106.46 C739.91,105.65 742.79,104.62 744.30,104.10 C745.81,103.57 745.43,103.75 746.80,103.30 C748.17,102.85 750.55,101.98 752.50,101.40 C754.45,100.82 756.82,100.13 758.50,99.80 C760.18,99.47 761.55,99.25 762.60,99.40 C763.65,99.55 764.47,100.17 764.80,100.70 C765.13,101.23 764.87,101.97 764.60,102.60 C764.33,103.23 764.22,103.02 763.20,104.50 C762.18,105.98 760.27,109.25 758.50,111.50 C756.73,113.75 754.55,116.03 752.60,118.00 C750.65,119.97 748.18,122.14 746.80,123.30 C745.42,124.46 745.81,123.74 744.30,124.97 C742.79,126.21 739.91,128.82 737.72,130.72 C735.52,132.61 733.33,134.49 731.13,136.35 C728.94,138.21 726.75,140.05 724.55,141.88 C722.36,143.71 720.16,145.53 717.97,147.34 C715.78,149.14 713.58,150.93 711.39,152.71 C709.19,154.50 707.00,156.27 704.80,158.03 C702.61,159.79 700.42,161.54 698.22,163.28 C696.03,165.02 693.83,166.75 691.64,168.48 C689.45,170.20 687.25,171.92 685.06,173.62 C682.86,175.33 680.67,177.03 678.47,178.71 C676.28,180.40 674.09,182.08 671.89,183.75 C669.70,185.43 667.50,187.09 665.31,188.74 C663.12,190.39 660.92,192.04 658.73,193.67 C656.53,195.30 654.34,196.93 652.14,198.54 C649.95,200.15 647.76,201.76 645.56,203.34 C643.37,204.93 641.17,206.51 638.98,208.08 C636.79,209.64 634.59,211.19 632.40,212.73 C630.20,214.27 628.01,215.79 625.81,217.30 C623.62,218.81 621.43,220.30 619.23,221.78 C617.04,223.25 614.84,224.71 612.65,226.15 C610.46,227.59 608.26,229.01 606.07,230.41 C603.87,231.81 601.68,233.20 599.49,234.56 C597.29,235.92 595.10,237.26 592.90,238.57 C590.71,239.89 588.51,241.18 586.32,242.45 C584.13,243.71 581.93,244.96 579.74,246.17 C577.54,247.39 575.35,248.58 573.15,249.74 C570.96,250.91 568.77,252.04 566.57,253.15 C564.38,254.25 562.18,255.33 559.99,256.38 C557.80,257.42 555.60,258.44 553.41,259.43 C551.21,260.41 549.02,261.36 546.83,262.28 C544.63,263.20 542.44,264.09 540.24,264.94 C538.05,265.79 535.85,266.61 533.66,267.40 C531.47,268.18 529.27,268.93 527.08,269.64 C524.88,270.36 522.69,271.03 520.50,271.68 C518.30,272.32 516.11,272.92 513.91,273.49 C511.72,274.06 509.52,274.59 507.33,275.09 C505.14,275.59 502.94,276.05 500.75,276.47 C498.55,276.89 496.36,277.28 494.17,277.63 C491.97,277.98 489.78,278.29 487.58,278.57 C485.39,278.85 482.10,279.18 481.00,279.30" class="k"/>
<path d="M481.00,279.30 C482.11,278.66 485.43,276.76 487.64,275.48 C489.85,274.21 492.07,272.93 494.28,271.65 C496.49,270.36 498.71,269.08 500.92,267.80 C503.13,266.51 505.35,265.22 507.56,263.94 C509.77,262.65 511.99,261.37 514.20,260.09 C516.41,258.80 518.63,257.52 520.84,256.24 C523.05,254.96 525.27,253.68 527.48,252.41 C529.69,251.13 531.91,249.86 534.12,248.59 C536.33,247.32 538.55,246.06 540.76,244.80 C542.97,243.54 545.19,242.28 547.40,241.03 C549.61,239.78 551.83,238.53 554.04,237.29 C556.25,236.04 558.47,234.81 560.68,233.57 C562.89,232.34 565.11,231.11 567.32,229.89 C569.53,228.67 571.75,227.45 573.96,226.24 C576.17,225.03 578.39,223.82 580.60,222.62 C582.81,221.42 585.03,220.22 587.24,219.03 C589.45,217.84 591.67,216.66 593.88,215.48 C596.09,214.30 598.31,213.13 600.52,211.96 C602.73,210.79 604.95,209.63 607.16,208.47 C609.37,207.31 611.59,206.16 613.80,205.01 C616.01,203.86 618.23,202.71 620.44,201.58 C622.65,200.44 624.87,199.30 627.08,198.17 C629.29,197.04 631.51,195.92 633.72,194.80 C635.93,193.68 638.15,192.56 640.36,191.45 C642.57,190.34 644.79,189.23 647.00,188.12 C649.21,187.02 651.43,185.92 653.64,184.82 C655.85,183.73 658.07,182.64 660.28,181.55 C662.49,180.46 664.71,179.37 666.92,178.29 C669.13,177.21 671.35,176.13 673.56,175.06 C675.77,173.98 677.99,172.91 680.20,171.84 C682.41,170.78 684.63,169.71 686.84,168.65 C689.05,167.59 691.27,166.54 693.48,165.48 C695.69,164.43 697.91,163.38 700.12,162.33 C702.33,161.29 704.55,160.25 706.76,159.21 C708.97,158.17 711.19,157.14 713.40,156.11 C715.61,155.08 717.83,154.06 720.04,153.04 C722.25,152.02 724.47,151.00 726.68,150.00 C728.89,148.99 731.11,147.98 733.32,146.99 C735.53,145.99 737.75,145.00 739.96,144.01 C742.17,143.03 745.08,141.79 746.60,141.08 C748.12,140.38 747.87,140.25 749.10,139.80 C750.33,139.35 752.43,138.80 754.00,138.40 C755.57,138.00 757.08,137.53 758.50,137.40 C759.92,137.27 761.45,137.37 762.50,137.60 C763.55,137.83 764.52,138.27 764.80,138.80 C765.08,139.33 764.67,140.15 764.20,140.80 C763.73,141.45 763.33,141.10 762.00,142.70 C760.67,144.30 758.35,148.15 756.20,150.40 C754.05,152.65 750.70,155.22 749.10,156.20 C747.50,157.18 748.12,155.64 746.60,156.30 C745.08,156.96 742.17,158.85 739.96,160.17 C737.75,161.48 735.53,162.83 733.32,164.20 C731.11,165.57 728.89,166.96 726.68,168.37 C724.47,169.77 722.25,171.20 720.04,172.63 C717.83,174.06 715.61,175.51 713.40,176.95 C711.19,178.40 708.97,179.86 706.76,181.32 C704.55,182.78 702.33,184.24 700.12,185.70 C697.91,187.16 695.69,188.62 693.48,190.07 C691.27,191.52 689.05,192.97 686.84,194.41 C684.63,195.86 682.41,197.29 680.20,198.72 C677.99,200.14 675.77,201.56 673.56,202.97 C671.35,204.37 669.13,205.77 666.92,207.15 C664.71,208.53 662.49,209.90 660.28,211.25 C658.07,212.60 655.85,213.94 653.64,215.27 C651.43,216.59 649.21,217.90 647.00,219.19 C644.79,220.49 642.57,221.76 640.36,223.02 C638.15,224.28 635.93,225.53 633.72,226.75 C631.51,227.98 629.29,229.19 627.08,230.38 C624.87,231.57 622.65,232.74 620.44,233.90 C618.23,235.06 616.01,236.19 613.80,237.31 C611.59,238.43 609.37,239.54 607.16,240.62 C604.95,241.70 602.73,242.77 600.52,243.82 C598.31,244.87 596.09,245.90 593.88,246.91 C591.67,247.92 589.45,248.92 587.24,249.89 C585.03,250.87 582.81,251.82 580.60,252.76 C578.39,253.70 576.17,254.62 573.96,255.52 C571.75,256.42 569.53,257.31 567.32,258.17 C565.11,259.04 562.89,259.88 560.68,260.70 C558.47,261.53 556.25,262.33 554.04,263.12 C551.83,263.90 549.61,264.67 547.40,265.41 C545.19,266.15 542.97,266.87 540.76,267.57 C538.55,268.27 536.33,268.95 534.12,269.60 C531.91,270.25 529.69,270.87 527.48,271.47 C525.27,272.07 523.05,272.65 520.84,273.19 C518.63,273.74 516.41,274.26 514.20,274.74 C511.99,275.23 509.77,275.69 507.56,276.11 C505.35,276.53 503.13,276.92 500.92,277.27 C498.71,277.62 496.49,277.93 494.28,278.20 C492.07,278.47 489.85,278.70 487.64,278.89 C485.43,279.07 482.11,279.23 481.00,279.30" class="r"/>
<path d="M481.00,279.30 C482.10,278.65 485.39,276.68 487.58,275.37 C489.78,274.07 491.97,272.77 494.17,271.48 C496.36,270.19 498.55,268.91 500.75,267.63 C502.94,266.35 505.14,265.08 507.33,263.81 C509.52,262.54 511.72,261.27 513.91,260.01 C516.11,258.75 518.30,257.49 520.50,256.24 C522.69,254.99 524.88,253.74 527.08,252.50 C529.27,251.25 531.47,250.02 533.66,248.78 C535.85,247.55 538.05,246.32 540.24,245.09 C542.44,243.86 544.63,242.64 546.83,241.42 C549.02,240.21 551.21,239.00 553.41,237.79 C555.60,236.58 557.80,235.38 559.99,234.18 C562.18,232.99 564.38,231.79 566.57,230.61 C568.77,229.42 570.96,228.24 573.15,227.07 C575.35,225.90 577.54,224.73 579.74,223.57 C581.93,222.41 584.13,221.25 586.32,220.11 C588.51,218.96 590.71,217.82 592.90,216.69 C595.10,215.56 597.29,214.43 599.49,213.32 C601.68,212.20 603.87,211.09 606.07,209.99 C608.26,208.90 610.46,207.80 612.65,206.72 C614.84,205.64 617.04,204.57 619.23,203.51 C621.43,202.44 623.62,201.39 625.81,200.35 C628.01,199.30 630.20,198.27 632.40,197.25 C634.59,196.22 636.79,195.21 638.98,194.21 C641.17,193.21 643.37,192.21 645.56,191.23 C647.76,190.25 649.95,189.28 652.14,188.32 C654.34,187.36 656.53,186.41 658.73,185.47 C660.92,184.53 663.12,183.60 665.31,182.69 C667.50,181.77 669.70,180.86 671.89,179.97 C674.09,179.07 676.28,178.18 678.47,177.31 C680.67,176.43 682.86,175.56 685.06,174.71 C687.25,173.85 689.45,173.00 691.64,172.16 C693.83,171.32 696.03,170.49 698.22,169.67 C700.42,168.85 702.61,168.03 704.80,167.22 C707.00,166.42 709.19,165.62 711.39,164.82 C713.58,164.03 715.78,163.24 717.97,162.45 C720.16,161.67 722.36,160.89 724.55,160.11 C726.75,159.33 728.94,158.56 731.13,157.78 C733.33,157.01 735.52,156.24 737.72,155.46 C739.91,154.69 742.79,153.70 744.30,153.14 C745.81,152.57 745.42,152.54 746.80,152.10 C748.18,151.66 750.65,150.98 752.60,150.50 C754.55,150.02 756.73,149.47 758.50,149.20 C760.27,148.93 762.12,148.73 763.20,148.90 C764.28,149.07 764.83,149.70 765.00,150.20 C765.17,150.70 764.60,151.38 764.20,151.90 C763.80,152.42 763.55,152.38 762.60,153.30 C761.65,154.22 760.17,155.93 758.50,157.40 C756.83,158.87 754.00,161.10 752.60,162.10 C751.20,163.10 751.64,162.52 750.10,163.38 C748.56,164.25 745.62,166.00 743.37,167.28 C741.13,168.56 738.89,169.81 736.64,171.05 C734.40,172.29 732.16,173.52 729.92,174.73 C727.68,175.95 725.43,177.15 723.19,178.34 C720.95,179.54 718.71,180.73 716.46,181.91 C714.22,183.09 711.98,184.27 709.74,185.45 C707.49,186.62 705.25,187.79 703.01,188.97 C700.77,190.14 698.52,191.31 696.28,192.48 C694.04,193.66 691.79,194.83 689.55,196.00 C687.31,197.18 685.07,198.35 682.83,199.53 C680.58,200.71 678.34,201.89 676.10,203.07 C673.86,204.25 671.61,205.43 669.37,206.61 C667.13,207.80 664.88,208.98 662.64,210.17 C660.40,211.35 658.16,212.54 655.92,213.72 C653.67,214.91 651.43,216.10 649.19,217.28 C646.94,218.46 644.70,219.64 642.46,220.82 C640.22,222.00 637.98,223.18 635.73,224.35 C633.49,225.52 631.25,226.68 629.00,227.84 C626.76,229.00 624.52,230.15 622.28,231.30 C620.04,232.44 617.79,233.58 615.55,234.70 C613.31,235.82 611.06,236.94 608.82,238.04 C606.58,239.14 604.34,240.23 602.10,241.31 C599.85,242.38 597.61,243.45 595.37,244.49 C593.12,245.54 590.88,246.57 588.64,247.58 C586.40,248.59 584.15,249.58 581.91,250.55 C579.67,251.53 577.43,252.48 575.19,253.41 C572.94,254.35 570.70,255.26 568.46,256.15 C566.21,257.04 563.97,257.90 561.73,258.75 C559.49,259.59 557.25,260.41 555.00,261.21 C552.76,262.00 550.52,262.77 548.27,263.52 C546.03,264.27 543.79,264.99 541.55,265.69 C539.31,266.38 537.06,267.06 534.82,267.70 C532.58,268.35 530.34,268.97 528.09,269.57 C525.85,270.17 523.61,270.75 521.37,271.30 C519.12,271.86 516.88,272.38 514.64,272.89 C512.40,273.40 510.15,273.89 507.91,274.36 C505.67,274.83 503.43,275.28 501.18,275.72 C498.94,276.15 496.70,276.57 494.45,276.98 C492.21,277.39 489.97,277.78 487.73,278.16 C485.49,278.55 482.12,279.11 481.00,279.30" class="k"/>
<path d="M481.00,279.30 C482.10,278.77 485.39,277.17 487.58,276.11 C489.78,275.06 491.97,274.01 494.17,272.97 C496.36,271.93 498.55,270.90 500.75,269.87 C502.94,268.84 505.14,267.82 507.33,266.80 C509.52,265.79 511.72,264.78 513.91,263.77 C516.11,262.76 518.30,261.76 520.50,260.76 C522.69,259.77 524.88,258.77 527.08,257.79 C529.27,256.80 531.47,255.81 533.66,254.83 C535.85,253.85 538.05,252.88 540.24,251.91 C542.44,250.94 544.63,249.97 546.83,249.00 C549.02,248.04 551.21,247.08 553.41,246.13 C555.60,245.17 557.80,244.22 559.99,243.28 C562.18,242.33 564.38,241.39 566.57,240.45 C568.77,239.51 570.96,238.58 573.15,237.65 C575.35,236.72 577.54,235.80 579.74,234.88 C581.93,233.96 584.13,233.05 586.32,232.14 C588.51,231.23 590.71,230.33 592.90,229.43 C595.10,228.54 597.29,227.64 599.49,226.76 C601.68,225.87 603.87,224.99 606.07,224.12 C608.26,223.25 610.46,222.38 612.65,221.52 C614.84,220.66 617.04,219.81 619.23,218.96 C621.43,218.11 623.62,217.27 625.81,216.44 C628.01,215.61 630.20,214.79 632.40,213.97 C634.59,213.15 636.79,212.34 638.98,211.54 C641.17,210.74 643.37,209.95 645.56,209.16 C647.76,208.38 649.95,207.60 652.14,206.83 C654.34,206.06 656.53,205.30 658.73,204.55 C660.92,203.80 663.12,203.06 665.31,202.32 C667.50,201.59 669.70,200.86 671.89,200.15 C674.09,199.43 676.28,198.72 678.47,198.02 C680.67,197.32 682.86,196.63 685.06,195.95 C687.25,195.26 689.45,194.59 691.64,193.92 C693.83,193.26 696.03,192.60 698.22,191.95 C700.42,191.30 702.61,190.66 704.80,190.03 C707.00,189.39 709.19,188.77 711.39,188.15 C713.58,187.53 715.78,186.91 717.97,186.31 C720.16,185.70 722.36,185.10 724.55,184.51 C726.75,183.91 728.94,183.32 731.13,182.74 C733.33,182.16 735.52,181.58 737.72,181.00 C739.91,180.43 742.79,179.70 744.30,179.28 C745.81,178.87 745.42,178.86 746.80,178.50 C748.18,178.14 750.65,177.55 752.60,177.10 C754.55,176.65 756.83,176.05 758.50,175.80 C760.17,175.55 761.60,175.47 762.60,175.60 C763.60,175.73 764.30,176.22 764.50,176.60 C764.70,176.98 764.22,177.48 763.80,177.90 C763.38,178.32 763.47,178.22 762.00,179.10 C760.53,179.98 757.53,181.73 755.00,183.20 C752.47,184.67 748.58,186.92 746.80,187.90 C745.02,188.88 745.81,188.45 744.30,189.09 C742.79,189.73 739.91,190.89 737.72,191.74 C735.52,192.58 733.33,193.38 731.13,194.15 C728.94,194.93 726.75,195.67 724.55,196.40 C722.36,197.13 720.16,197.83 717.97,198.52 C715.78,199.21 713.58,199.89 711.39,200.56 C709.19,201.23 707.00,201.90 704.80,202.56 C702.61,203.23 700.42,203.88 698.22,204.55 C696.03,205.21 693.83,205.88 691.64,206.55 C689.45,207.22 687.25,207.90 685.06,208.59 C682.86,209.28 680.67,209.97 678.47,210.67 C676.28,211.38 674.09,212.09 671.89,212.82 C669.70,213.55 667.50,214.29 665.31,215.03 C663.12,215.78 660.92,216.55 658.73,217.32 C656.53,218.09 654.34,218.87 652.14,219.67 C649.95,220.46 647.76,221.27 645.56,222.09 C643.37,222.90 641.17,223.73 638.98,224.56 C636.79,225.40 634.59,226.24 632.40,227.09 C630.20,227.94 628.01,228.80 625.81,229.66 C623.62,230.52 621.43,231.38 619.23,232.25 C617.04,233.12 614.84,233.99 612.65,234.87 C610.46,235.74 608.26,236.61 606.07,237.48 C603.87,238.36 601.68,239.23 599.49,240.09 C597.29,240.96 595.10,241.82 592.90,242.68 C590.71,243.53 588.51,244.39 586.32,245.23 C584.13,246.07 581.93,246.91 579.74,247.73 C577.54,248.56 575.35,249.37 573.15,250.18 C570.96,250.98 568.77,251.78 566.57,252.56 C564.38,253.34 562.18,254.11 559.99,254.87 C557.80,255.63 555.60,256.37 553.41,257.11 C551.21,257.84 549.02,258.56 546.83,259.26 C544.63,259.97 542.44,260.66 540.24,261.35 C538.05,262.03 535.85,262.70 533.66,263.36 C531.47,264.02 529.27,264.67 527.08,265.32 C524.88,265.97 522.69,266.60 520.50,267.23 C518.30,267.87 516.11,268.49 513.91,269.13 C511.72,269.76 509.52,270.38 507.33,271.02 C505.14,271.65 502.94,272.29 500.75,272.94 C498.55,273.59 496.36,274.25 494.17,274.93 C491.97,275.62 489.78,276.31 487.58,277.04 C485.39,277.76 482.10,278.92 481.00,279.30" class="k"/>
<path d="M481.00,279.30 C482.10,278.80 485.39,277.28 487.58,276.29 C489.78,275.30 491.97,274.32 494.17,273.35 C496.36,272.37 498.55,271.41 500.75,270.46 C502.94,269.50 505.14,268.56 507.33,267.62 C509.52,266.67 511.72,265.74 513.91,264.82 C516.11,263.89 518.30,262.97 520.50,262.05 C522.69,261.14 524.88,260.23 527.08,259.32 C529.27,258.42 531.47,257.52 533.66,256.63 C535.85,255.73 538.05,254.84 540.24,253.95 C542.44,253.07 544.63,252.18 546.83,251.31 C549.02,250.43 551.21,249.55 553.41,248.69 C555.60,247.82 557.80,246.95 559.99,246.09 C562.18,245.23 564.38,244.37 566.57,243.52 C568.77,242.66 570.96,241.82 573.15,240.97 C575.35,240.13 577.54,239.29 579.74,238.45 C581.93,237.62 584.13,236.79 586.32,235.97 C588.51,235.14 590.71,234.32 592.90,233.51 C595.10,232.70 597.29,231.89 599.49,231.09 C601.68,230.29 603.87,229.49 606.07,228.70 C608.26,227.91 610.46,227.13 612.65,226.36 C614.84,225.58 617.04,224.81 619.23,224.05 C621.43,223.29 623.62,222.54 625.81,221.80 C628.01,221.05 630.20,220.31 632.40,219.59 C634.59,218.86 636.79,218.14 638.98,217.43 C641.17,216.72 643.37,216.02 645.56,215.33 C647.76,214.64 649.95,213.95 652.14,213.28 C654.34,212.61 656.53,211.95 658.73,211.29 C660.92,210.64 663.12,210.00 665.31,209.37 C667.50,208.73 669.70,208.11 671.89,207.50 C674.09,206.89 676.28,206.29 678.47,205.70 C680.67,205.11 682.86,204.53 685.06,203.96 C687.25,203.39 689.45,202.84 691.64,202.29 C693.83,201.74 696.03,201.20 698.22,200.68 C700.42,200.15 702.61,199.63 704.80,199.12 C707.00,198.62 709.19,198.12 711.39,197.63 C713.58,197.14 715.78,196.67 717.97,196.19 C720.16,195.72 722.36,195.26 724.55,194.81 C726.75,194.35 728.94,193.91 731.13,193.47 C733.33,193.03 735.52,192.59 737.72,192.17 C739.91,191.74 742.79,191.21 744.30,190.90 C745.81,190.59 745.42,190.58 746.80,190.30 C748.18,190.02 750.65,189.53 752.60,189.20 C754.55,188.87 756.73,188.45 758.50,188.30 C760.27,188.15 762.12,188.08 763.20,188.30 C764.28,188.52 764.82,189.20 765.00,189.60 C765.18,190.00 764.70,190.38 764.30,190.70 C763.90,191.02 764.15,190.88 762.60,191.50 C761.05,192.12 757.63,193.33 755.00,194.40 C752.37,195.47 748.58,197.12 746.80,197.90 C745.02,198.68 745.81,198.45 744.30,199.09 C742.79,199.72 739.91,200.84 737.72,201.69 C735.52,202.55 733.33,203.38 731.13,204.20 C728.94,205.02 726.75,205.83 724.55,206.63 C722.36,207.43 720.16,208.22 717.97,209.00 C715.78,209.78 713.58,210.54 711.39,211.31 C709.19,212.08 707.00,212.83 704.80,213.59 C702.61,214.34 700.42,215.09 698.22,215.84 C696.03,216.58 693.83,217.33 691.64,218.07 C689.45,218.81 687.25,219.55 685.06,220.29 C682.86,221.03 680.67,221.77 678.47,222.50 C676.28,223.24 674.09,223.98 671.89,224.72 C669.70,225.45 667.50,226.19 665.31,226.93 C663.12,227.67 660.92,228.41 658.73,229.15 C656.53,229.89 654.34,230.63 652.14,231.37 C649.95,232.11 647.76,232.85 645.56,233.59 C643.37,234.33 641.17,235.08 638.98,235.82 C636.79,236.56 634.59,237.30 632.40,238.04 C630.20,238.78 628.01,239.53 625.81,240.27 C623.62,241.00 621.43,241.74 619.23,242.48 C617.04,243.22 614.84,243.95 612.65,244.68 C610.46,245.41 608.26,246.14 606.07,246.87 C603.87,247.59 601.68,248.32 599.49,249.03 C597.29,249.75 595.10,250.47 592.90,251.17 C590.71,251.88 588.51,252.59 586.32,253.28 C584.13,253.98 581.93,254.67 579.74,255.35 C577.54,256.04 575.35,256.72 573.15,257.38 C570.96,258.05 568.77,258.71 566.57,259.37 C564.38,260.02 562.18,260.66 559.99,261.30 C557.80,261.93 555.60,262.55 553.41,263.17 C551.21,263.78 549.02,264.39 546.83,264.98 C544.63,265.57 542.44,266.16 540.24,266.73 C538.05,267.30 535.85,267.86 533.66,268.41 C531.47,268.95 529.27,269.49 527.08,270.01 C524.88,270.54 522.69,271.05 520.50,271.55 C518.30,272.05 516.11,272.54 513.91,273.01 C511.72,273.49 509.52,273.95 507.33,274.41 C505.14,274.86 502.94,275.30 500.75,275.73 C498.55,276.16 496.36,276.57 494.17,276.98 C491.97,277.39 489.78,277.78 487.58,278.17 C485.39,278.56 482.10,279.11 481.00,279.30" class="k"/>
<path d="M481.00,279.30 C482.11,279.08 485.43,278.44 487.64,277.98 C489.85,277.52 492.07,277.04 494.28,276.55 C496.49,276.06 498.71,275.55 500.92,275.04 C503.13,274.53 505.35,274.00 507.56,273.47 C509.77,272.95 511.99,272.41 514.20,271.88 C516.41,271.35 518.63,270.81 520.84,270.27 C523.05,269.74 525.27,269.20 527.48,268.67 C529.69,268.14 531.91,267.60 534.12,267.08 C536.33,266.55 538.55,266.03 540.76,265.51 C542.97,264.99 545.19,264.48 547.40,263.97 C549.61,263.46 551.83,262.96 554.04,262.46 C556.25,261.96 558.47,261.47 560.68,260.98 C562.89,260.49 565.11,260.01 567.32,259.53 C569.53,259.05 571.75,258.58 573.96,258.11 C576.17,257.63 578.39,257.17 580.60,256.70 C582.81,256.24 585.03,255.78 587.24,255.32 C589.45,254.86 591.67,254.40 593.88,253.94 C596.09,253.48 598.31,253.02 600.52,252.56 C602.73,252.10 604.95,251.64 607.16,251.18 C609.37,250.72 611.59,250.25 613.80,249.78 C616.01,249.31 618.23,248.84 620.44,248.36 C622.65,247.89 624.87,247.40 627.08,246.92 C629.29,246.43 631.51,245.93 633.72,245.43 C635.93,244.93 638.15,244.42 640.36,243.90 C642.57,243.39 644.79,242.86 647.00,242.33 C649.21,241.80 651.43,241.26 653.64,240.71 C655.85,240.16 658.07,239.60 660.28,239.03 C662.49,238.47 664.71,237.89 666.92,237.31 C669.13,236.73 671.35,236.14 673.56,235.55 C675.77,234.95 677.99,234.35 680.20,233.74 C682.41,233.13 684.63,232.52 686.84,231.90 C689.05,231.29 691.27,230.67 693.48,230.05 C695.69,229.43 697.91,228.81 700.12,228.19 C702.33,227.57 704.55,226.96 706.76,226.35 C708.97,225.74 711.19,225.14 713.40,224.55 C715.61,223.96 717.83,223.38 720.04,222.82 C722.25,222.26 724.47,221.71 726.68,221.18 C728.89,220.66 731.11,220.16 733.32,219.69 C735.53,219.22 737.75,218.77 739.96,218.37 C742.17,217.97 745.08,217.50 746.60,217.29 C748.12,217.07 747.87,217.31 749.10,217.10 C750.33,216.89 752.43,216.33 754.00,216.00 C755.57,215.67 757.08,215.23 758.50,215.10 C759.92,214.97 761.55,215.05 762.50,215.20 C763.45,215.35 764.28,215.60 764.20,216.00 C764.12,216.40 763.73,216.73 762.00,217.60 C760.27,218.47 756.53,220.12 753.80,221.20 C751.07,222.28 747.38,223.49 745.60,224.10 C743.82,224.71 744.61,224.35 743.10,224.85 C741.59,225.35 738.73,226.35 736.55,227.10 C734.36,227.85 732.18,228.60 730.00,229.35 C727.81,230.10 725.63,230.85 723.44,231.59 C721.26,232.33 719.07,233.07 716.89,233.81 C714.71,234.54 712.52,235.27 710.34,235.99 C708.15,236.71 705.97,237.42 703.78,238.12 C701.60,238.83 699.42,239.52 697.23,240.21 C695.05,240.90 692.86,241.58 690.68,242.24 C688.50,242.91 686.31,243.57 684.13,244.22 C681.94,244.87 679.76,245.51 677.58,246.13 C675.39,246.76 673.21,247.38 671.02,247.99 C668.84,248.59 666.65,249.19 664.47,249.78 C662.29,250.36 660.10,250.94 657.92,251.50 C655.73,252.07 653.55,252.63 651.37,253.17 C649.18,253.72 647.00,254.25 644.81,254.78 C642.63,255.31 640.44,255.83 638.26,256.34 C636.08,256.84 633.89,257.34 631.71,257.84 C629.52,258.33 627.34,258.81 625.15,259.29 C622.97,259.76 620.79,260.23 618.60,260.69 C616.42,261.15 614.23,261.60 612.05,262.05 C609.87,262.49 607.68,262.93 605.50,263.36 C603.31,263.80 601.13,264.22 598.95,264.64 C596.76,265.06 594.58,265.48 592.39,265.89 C590.21,266.30 588.02,266.70 585.84,267.10 C583.66,267.49 581.47,267.88 579.29,268.27 C577.10,268.66 574.92,269.04 572.74,269.41 C570.55,269.79 568.37,270.16 566.18,270.52 C564.00,270.89 561.81,271.24 559.63,271.60 C557.45,271.95 555.26,272.30 553.08,272.63 C550.89,272.97 548.71,273.31 546.52,273.63 C544.34,273.95 542.16,274.27 539.97,274.58 C537.79,274.89 535.60,275.19 533.42,275.47 C531.24,275.76 529.05,276.04 526.87,276.31 C524.68,276.57 522.50,276.83 520.32,277.07 C518.13,277.31 515.95,277.54 513.76,277.75 C511.58,277.96 509.39,278.15 507.21,278.33 C505.03,278.50 502.84,278.66 500.66,278.79 C498.47,278.92 496.29,279.04 494.11,279.12 C491.92,279.21 489.74,279.27 487.55,279.30 C485.37,279.33 482.09,279.30 481.00,279.30" class="r"/>
<ellipse cx="483.3" cy="276.2" rx="2.6" ry="3.0" fill="#ff0000"/>
<ellipse cx="491.5" cy="277.0" rx="2.6" ry="2.2" fill="#ff0000"/>
<rect x="70" y="2" width="341.5" height="277.3" class="ax"/>
<rect x="481" y="2.5" width="341" height="276.8" class="ax"/>
<path class="ax" d="M65.0,251.58H70.0 M65.0,196.14H70.0 M65.0,140.70H70.0 M65.0,85.26H70.0 M65.0,29.82H70.0 M67.5,279.30H70.0 M67.5,223.86H70.0 M67.5,168.42H70.0 M67.5,112.98H70.0 M67.5,57.54H70.0 M476.0,251.58H481.0 M476.0,196.14H481.0 M476.0,140.70H481.0 M476.0,85.26H481.0 M476.0,29.82H481.0 M478.5,279.30H481.0 M478.5,223.86H481.0 M478.5,168.42H481.0 M478.5,112.98H481.0 M478.5,57.54H481.0 M112.75,279.3V285 M198.25,279.3V285 M283.75,279.3V285 M369.25,279.3V285 M70.00,279.3V282.3 M155.50,279.3V282.3 M241.00,279.3V282.3 M326.50,279.3V282.3 M412.00,279.3V282.3 M537.76,279.3V285 M651.28,279.3V285 M764.80,279.3V285 M481.00,279.3V282.3 M594.52,279.3V282.3 M708.04,279.3V282.3 M821.56,279.3V282.3"/>
<text x="60.5" y="258.08" class="tl" text-anchor="end">0.4</text>
<text x="60.5" y="202.64" class="tl" text-anchor="end">1.2</text>
<text x="60.5" y="147.20" class="tl" text-anchor="end">2.0</text>
<text x="60.5" y="91.76" class="tl" text-anchor="end">2.8</text>
<text x="60.5" y="36.32" class="tl" text-anchor="end">3.6</text>
<text x="471.5" y="258.08" class="tl" text-anchor="end">0.4</text>
<text x="471.5" y="202.64" class="tl" text-anchor="end">1.2</text>
<text x="471.5" y="147.20" class="tl" text-anchor="end">2.0</text>
<text x="471.5" y="91.76" class="tl" text-anchor="end">2.8</text>
<text x="471.5" y="36.32" class="tl" text-anchor="end">3.6</text>
<text x="112.75" y="304" class="tl" text-anchor="middle">0.3</text>
<text x="198.25" y="304" class="tl" text-anchor="middle">0.9</text>
<text x="283.75" y="304" class="tl" text-anchor="middle">1.5</text>
<text x="369.25" y="304" class="tl" text-anchor="middle">2.1</text>
<text x="537.76" y="304" class="tl" text-anchor="middle">0.2</text>
<text x="651.28" y="304" class="tl" text-anchor="middle">0.6</text>
<text x="764.80" y="304" class="tl" text-anchor="middle">1.0</text>
<text x="766" y="22.5" class="tt">T=100ºC</text>
<text x="766" y="45.5" class="tt">T=140ºC</text>
<text x="766" y="79" class="tt">T=160ºC</text>
<text x="766" y="107.5" class="tt">T=80ºC</text>
<text x="766" y="140" class="tt">T=180ºC</text>
<text x="766" y="158.5" class="tt">T=60ºC</text>
<text x="766" y="177.8" class="tt">T=40ºC</text>
<text x="766" y="199" class="tt">T=20ºC</text>
<text x="766" y="217.7" class="tt">T=200ºC</text>
<text x="87" y="50" style="font-size:35px">(a)</text>
<text x="498.5" y="53" style="font-size:35px">(b)</text>
<text x="117.7" y="328.8" class="al">Electric field, E <tspan class="sp">(</tspan>kV mm<tspan class="sup" dy="-7.5">-1</tspan><tspan class="sp" dy="7.5">)</tspan></text>
<text x="541.2" y="334" class="al">Electric field, E <tspan class="sp">(</tspan>kV mm<tspan class="sup" dy="-7.5">-1</tspan><tspan class="sp" dy="7.5">)</tspan></text>
<text transform="translate(23.5,221.5) rotate(-90)" class="al yl" style="font-size:21.5px">Strain, S <tspan class="sp">(</tspan><tspan class="sp">×</tspan>10<tspan class="supy" dy="-7.5">-3</tspan><tspan class="sp" dy="7.5">)</tspan></text>
<text transform="translate(442,217.5) rotate(-90)" class="al yl" style="font-size:22px">Strain, S <tspan class="sp">(</tspan><tspan class="sp">×</tspan>10<tspan class="supy" dy="-7.5">-3</tspan><tspan class="sp" dy="7.5">)</tspan></text>
</svg>
</body></html>
